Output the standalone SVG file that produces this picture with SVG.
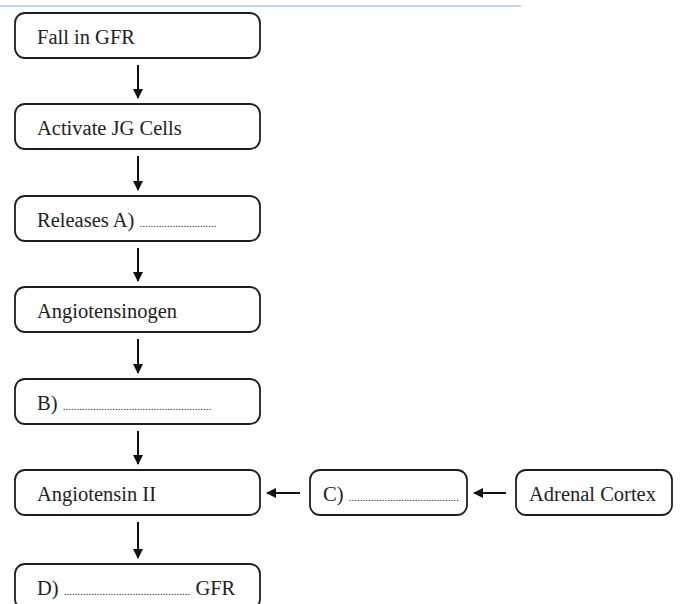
<svg xmlns="http://www.w3.org/2000/svg" width="681" height="604" viewBox="0 0 681 604">
<defs>
<style>
.box{fill:#fff;stroke:#1e1e1e;stroke-width:1.8}
.t{font-family:"Liberation Serif","Times New Roman",serif;font-size:20.5px;fill:#222}
.d{font-size:11px}
.c{stroke:#111;stroke-width:2;fill:none}
</style>
<marker id="ah" viewBox="0 0 10 10" refX="9" refY="5" markerWidth="10" markerHeight="10" markerUnits="userSpaceOnUse" orient="auto">
<path d="M0,0 L10,5 L0,10 z" fill="#111"/>
</marker>
</defs>
<rect width="681" height="604" fill="#fff"/>
<line x1="0" y1="6" x2="521" y2="6" stroke="#a9c8e8" stroke-width="1.6"/>
<g id="n1"><rect class="box" x="15" y="13" width="245" height="45" rx="10"/><text class="t" x="37" y="44">Fall in GFR</text></g>
<g id="n2"><rect class="box" x="15" y="104" width="245" height="45" rx="10"/><text class="t" x="37" y="135">Activate JG Cells</text></g>
<g id="n3"><rect class="box" x="15" y="196" width="245" height="45" rx="10"/><text class="t" x="37" y="227">Releases A) <tspan class="d">............................</tspan></text></g>
<g id="n4"><rect class="box" x="15" y="287" width="245" height="45" rx="10"/><text class="t" x="37" y="318">Angiotensinogen</text></g>
<g id="n5"><rect class="box" x="15" y="379" width="245" height="45" rx="10"/><text class="t" x="37" y="410">B) <tspan class="d">......................................................</tspan></text></g>
<g id="n6"><rect class="box" x="15" y="470" width="245" height="45" rx="10"/><text class="t" x="37" y="501">Angiotensin II</text></g>
<g id="n7"><rect class="box" x="310" y="470" width="157" height="45" rx="10"/><text class="t" x="323" y="501">C) <tspan class="d">........................................</tspan></text></g>
<g id="n8"><rect class="box" x="516" y="470" width="156" height="45" rx="10"/><text class="t" x="529" y="501">Adrenal Cortex</text></g>
<g id="n9"><rect class="box" x="15" y="564" width="245" height="45" rx="10"/><text class="t" x="37" y="595">D) <tspan class="d">..............................................</tspan> GFR</text></g>
<g id="connectors">
<line class="c" x1="138" y1="65" x2="138" y2="98" marker-end="url(#ah)"/>
<line class="c" x1="138" y1="156" x2="138" y2="190" marker-end="url(#ah)"/>
<line class="c" x1="138" y1="248" x2="138" y2="281" marker-end="url(#ah)"/>
<line class="c" x1="138" y1="339" x2="138" y2="373" marker-end="url(#ah)"/>
<line class="c" x1="138" y1="431" x2="138" y2="464" marker-end="url(#ah)"/>
<line class="c" x1="138" y1="522" x2="138" y2="558" marker-end="url(#ah)"/>
<line class="c" x1="300" y1="493" x2="267" y2="493" marker-end="url(#ah)"/>
<line class="c" x1="506" y1="493" x2="474" y2="493" marker-end="url(#ah)"/>
</g>
</svg>
